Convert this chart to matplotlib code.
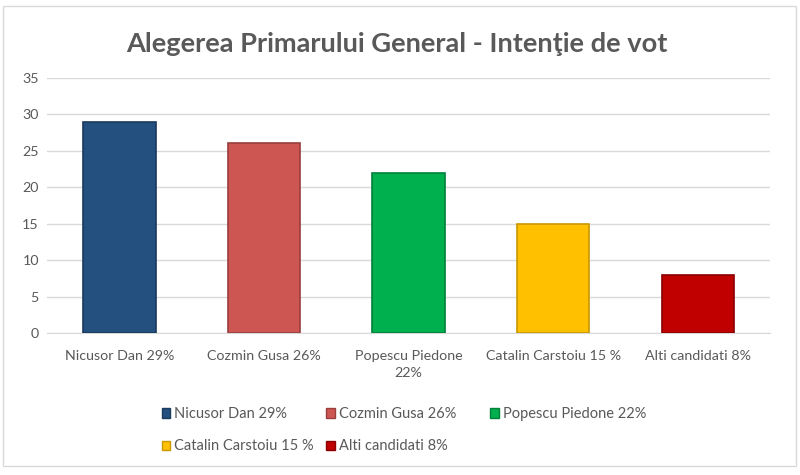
import matplotlib
matplotlib.use("Agg")
import matplotlib.pyplot as plt
from matplotlib.patches import Rectangle, Patch

plt.rcParams['font.family'] = ['Lato', 'DejaVu Sans']

candidati = ["Nicusor Dan 29%", "Cozmin Gusa 26%", "Popescu Piedone 22%",
             "Catalin Carstoiu 15 %", "Alti candidati 8%"]
etichete_axa = ["Nicusor Dan 29%", "Cozmin Gusa 26%", "Popescu Piedone\n22%",
                "Catalin Carstoiu 15 %", "Alti candidati 8%"]
procente = [29, 26, 22, 15, 8]
culori = ["#24507f", "#cd5552", "#00b04f", "#ffc000", "#c00000"]
margini = ["#1a3a5e", "#9a3e3c", "#00803a", "#c99700", "#8a0000"]

text_gri = "#595959"

fig = plt.figure(figsize=(8, 4.75), dpi=100)
fig.patches.append(Rectangle((0.004, 0.019), 0.991, 0.968, transform=fig.transFigure,
                             fill=False, edgecolor="#d9d9d9", linewidth=1))

ax = fig.add_axes([0.059, 0.299, 0.9035, 0.537])
x = range(len(procente))
ax.bar(x, procente, width=0.5, color=culori, edgecolor=margini, linewidth=1.2, zorder=3)

ax.set_xlim(-0.5, len(procente) - 0.5)
ax.set_ylim(0, 35)
ax.set_yticks(range(0, 36, 5))
ax.set_xticks(list(x))
ax.set_xticklabels(etichete_axa, linespacing=1.55)
ax.tick_params(axis='both', length=0, labelsize=10.3, labelcolor=text_gri)
ax.tick_params(axis='x', pad=12)
ax.tick_params(axis='y', pad=6)
ax.grid(axis='y', color="#d9d9d9", linewidth=1, zorder=0)
for s in ['top', 'right', 'left']:
    ax.spines[s].set_visible(False)
ax.spines['bottom'].set_color("#d9d9d9")

fig.text(0.4955, 0.908, "Alegerea Primarului General - Intenţie de vot",
         ha='center', va='center', fontsize=19.6, fontweight='bold', color=text_gri)

# legenda pe coloane de latime egala, ca in Excel
handles = [Patch(facecolor=c, edgecolor=m) for c, m in zip(culori, margini)]
coloane = [[0, 3], [1, 4], [2]]
x_coloane = [0.193, 0.399, 0.604]
for idx, xc in zip(coloane, x_coloane):
    fig.legend([handles[i] for i in idx], [candidati[i] for i in idx],
               loc='upper left', bbox_to_anchor=(xc, 0.158), frameon=False,
               fontsize=10.5, labelcolor=text_gri, handlelength=0.6,
               handleheight=0.6, handletextpad=0.25, labelspacing=1.25, borderpad=0)

fig.savefig("out.png", dpi=100)
